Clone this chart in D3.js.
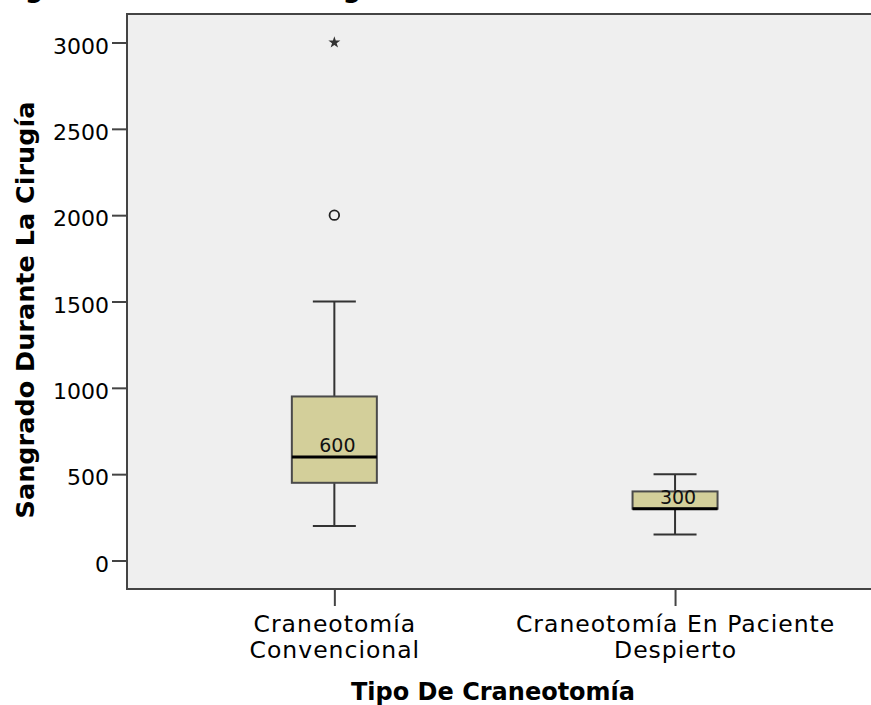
<!DOCTYPE html>
<html><head><meta charset="utf-8">
<script src="https://cdn.jsdelivr.net/npm/d3@7"></script>
<style>body{margin:0;background:#fff}svg{display:block}</style>
</head><body>
<script>
const categories = ["Craneotomía Convencional", "Craneotomía En Paciente Despierto"];
const labelLines = [["Craneotomía", "Convencional"], ["Craneotomía En Paciente", "Despierto"]];
const whiskerLow = [200, 150];
const q1 = [450, 300];
const medians = [600, 300];
const q3 = [950, 400];
const whiskerHigh = [1500, 500];
const outliersCircle = [[0, 2000]];
const outliersExtreme = [[0, 3000]];
const yTicks = [0, 500, 1000, 1500, 2000, 2500, 3000];
const yTitle = "Sangrado Durante La Cirugía";
const xTitle = "Tipo De Craneotomía";
const chartTitle = "Sangrado Durante La Cirugía";

const W = 871, H = 705;
const svg = d3.select("body").append("svg").attr("width", W).attr("height", H);
const frame = {left: 127, top: 14, bottom: 589, right: 880};

const y = d3.scaleLinear().domain([0, 3000]).range([560.5, 42.5]);
const x = d3.scalePoint().domain(categories).range([164, 845.4]).padding(0.5);
const boxW = 85, capW = 43;

// cropped title (only descenders visible in the reference)
const title = svg.append("text").attr("x", 0).attr("y", -2)
  .attr("font-family", "DejaVu Sans").attr("font-weight", "bold").attr("font-size", 25.3)
  .attr("fill", "#000").text(chartTitle);
(function fitTitle() {
  const node = title.node();
  const g1 = chartTitle.indexOf("g"), g2 = chartTitle.lastIndexOf("g");
  let p1 = node.getStartPositionOfChar(g1).x, p2 = node.getStartPositionOfChar(g2).x;
  const size = 25.3 * 318 / (p2 - p1);
  title.attr("font-size", size);
  p1 = node.getStartPositionOfChar(g1).x;
  title.attr("x", 25 - p1);
})();

// plot background
svg.append("rect").attr("x", frame.left).attr("y", frame.top)
  .attr("width", frame.right - frame.left).attr("height", frame.bottom - frame.top)
  .attr("fill", "#efefef").attr("stroke", "#444").attr("stroke-width", 2);

// y axis
const yAxis = d3.axisLeft(y).tickValues(yTicks).tickSize(15).tickPadding(3).tickFormat(d3.format("d"));
const ya = svg.append("g").attr("transform", `translate(${frame.left},0)`).call(yAxis);
ya.select(".domain").remove();
ya.selectAll(".tick line").attr("stroke", "#444").attr("stroke-width", 2);
ya.selectAll(".tick text").attr("font-family", "DejaVu Sans").attr("font-size", 22)
  .attr("fill", "#000").attr("dy", null).attr("y", 10.5).attr("x", -18);

// x axis ticks
const xAxis = d3.axisBottom(x).tickSize(17).tickFormat("");
const xa = svg.append("g").attr("transform", `translate(0,${frame.bottom})`).call(xAxis);
xa.select(".domain").remove();
xa.selectAll(".tick line").attr("stroke", "#444").attr("stroke-width", 2);
xa.selectAll(".tick").each(function(d, i) {
  const t = d3.select(this).append("text").attr("font-family", "DejaVu Sans").attr("font-size", 23.5)
    .attr("letter-spacing", 1).attr("fill", "#000").attr("text-anchor", "middle");
  labelLines[i].forEach((ln, j) => t.append("tspan").attr("x", 0).attr("y", 42.7 + j * 26.6).text(ln));
});

// boxes
const g = svg.append("g");
categories.forEach((c, i) => {
  const cx = x(c);
  g.append("line").attr("x1", cx).attr("x2", cx).attr("y1", y(whiskerHigh[i])).attr("y2", y(q3[i]))
    .attr("stroke", "#333").attr("stroke-width", 2);
  g.append("line").attr("x1", cx).attr("x2", cx).attr("y1", y(q1[i])).attr("y2", y(whiskerLow[i]))
    .attr("stroke", "#333").attr("stroke-width", 2);
  [whiskerHigh[i], whiskerLow[i]].forEach(v => g.append("line")
    .attr("x1", cx - capW / 2).attr("x2", cx + capW / 2).attr("y1", y(v)).attr("y2", y(v))
    .attr("stroke", "#333").attr("stroke-width", 2));
  g.append("rect").attr("x", cx - boxW / 2).attr("y", y(q3[i])).attr("width", boxW)
    .attr("height", y(q1[i]) - y(q3[i])).attr("fill", "#d3cf9a").attr("stroke", "#4a4a4a").attr("stroke-width", 2);
  g.append("line").attr("x1", cx - boxW / 2).attr("x2", cx + boxW / 2).attr("y1", y(medians[i])).attr("y2", y(medians[i]))
    .attr("stroke", "#000").attr("stroke-width", 3);
  g.append("text").attr("x", cx + 3).attr("y", y(medians[i]) - 5).attr("text-anchor", "middle")
    .attr("font-family", "DejaVu Sans").attr("font-size", 19).attr("fill", "#111").text(medians[i]);
});

// outliers
outliersCircle.forEach(([i, v]) => g.append("circle").attr("cx", x(categories[i])).attr("cy", y(v)).attr("r", 4.8)
  .attr("fill", "none").attr("stroke", "#222").attr("stroke-width", 1.8));
outliersExtreme.forEach(([i, v]) => g.append("path").attr("d", d3.symbol(d3.symbolStar, 45)())
  .attr("transform", `translate(${x(categories[i])},${y(v)})`).attr("fill", "#333"));

// axis titles
svg.append("text").attr("transform", `translate(33.6,310) rotate(-90)`).attr("text-anchor", "middle")
  .attr("font-family", "DejaVu Sans").attr("font-weight", "bold").attr("font-size", 25.5).attr("fill", "#000").text(yTitle);
svg.append("text").attr("x", 493).attr("y", 699.5).attr("text-anchor", "middle")
  .attr("font-family", "DejaVu Sans").attr("font-weight", "bold").attr("font-size", 24).attr("fill", "#000").text(xTitle);
</script>
</body></html>
